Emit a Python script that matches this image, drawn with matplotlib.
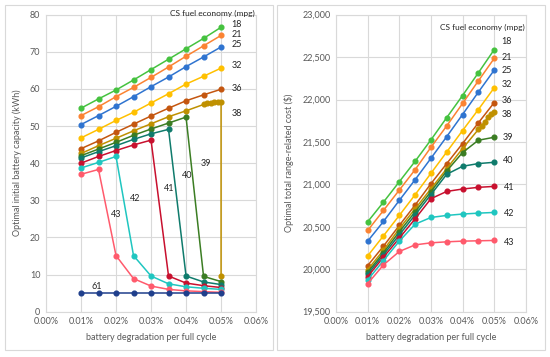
import matplotlib.pyplot as plt
from matplotlib.patches import Rectangle
from matplotlib.ticker import FuncFormatter, MultipleLocator

plt.rcParams['font.family'] = ['Liberation Sans Narrow', 'Lato', 'DejaVu Sans']

# battery degradation per full cycle (%)
deg = [0.010, 0.015, 0.020, 0.025, 0.030, 0.035, 0.040, 0.045, 0.050]
deg_38_left = deg[:8] + [0.046, 0.047, 0.048, 0.049, 0.050, 0.050]
deg_38_right = deg[:8] + [0.046, 0.047, 0.048, 0.049, 0.050]

mpg = ['18', '21', '25', '32', '36', '38', '39', '40', '41', '42', '43', '61']

# optimal initial battery capacity (kWh)
cap_18 = [54.8, 57.3, 59.7, 62.4, 65.2, 68.0, 70.8, 73.6, 76.6]
cap_21 = [52.8, 55.2, 57.9, 60.4, 63.1, 65.9, 68.8, 71.6, 74.4]
cap_25 = [50.4, 52.8, 55.3, 57.9, 60.6, 63.2, 66.0, 68.6, 71.3]
cap_32 = [46.8, 49.1, 51.5, 53.7, 56.2, 58.7, 61.3, 63.4, 65.6]
cap_36 = [43.9, 46.0, 48.3, 50.5, 52.7, 54.8, 56.8, 58.4, 59.9]
cap_38 = [42.6, 44.7, 46.7, 48.7, 50.6, 52.5, 54.1, 55.8, 56.1, 56.3, 56.5, 56.6, 56.5, 9.5]
cap_39 = [42.0, 43.8, 45.6, 47.5, 49.2, 50.8, 52.4, 9.5, 8.1]
cap_40 = [41.4, 43.1, 44.7, 46.4, 47.9, 49.1, 9.6, 8.0, 7.3]
cap_41 = [40.0, 41.8, 43.4, 44.9, 46.2, 9.6, 7.7, 7.0, 6.5]
cap_42 = [38.7, 40.2, 41.8, 15.1, 9.6, 7.5, 6.7, 6.3, 6.0]
cap_43 = [37.0, 38.3, 15.1, 8.9, 6.9, 6.0, 5.6, 5.4, 5.2]
cap_61 = [5.0, 5.0, 5.0, 5.0, 5.0, 5.0, 5.0, 5.0, 5.0]

# optimal total range-related cost ($)
cost_18 = [20559, 20791, 21031, 21272, 21524, 21787, 22047, 22315, 22587]
cost_21 = [20457, 20693, 20933, 21173, 21437, 21689, 21953, 22220, 22484]
cost_25 = [20331, 20563, 20811, 21055, 21307, 21563, 21823, 22087, 22346]
cost_32 = [20157, 20394, 20634, 20878, 21130, 21382, 21634, 21882, 22138]
cost_36 = [20043, 20272, 20516, 20756, 21008, 21245, 21481, 21725, 21963]
cost_38 = [19995, 20225, 20478, 20712, 20948, 21186, 21422, 21647, 21688, 21737, 21788, 21827, 21851]
cost_39 = [19965, 20195, 20442, 20676, 20915, 21158, 21375, 21520, 21555]
cost_40 = [19940, 20170, 20405, 20640, 20880, 21119, 21213, 21245, 21260]
cost_41 = [19913, 20142, 20366, 20594, 20831, 20917, 20945, 20965, 20976]
cost_42 = [19874, 20102, 20331, 20531, 20610, 20634, 20650, 20661, 20669]
cost_43 = [19831, 20051, 20209, 20287, 20311, 20323, 20331, 20335, 20339]

colors = ['#45c23f', '#fb8332', '#2f74d0', '#ffc000', '#c4560f', '#bf9000',
          '#3b7d23', '#0f7b6c', '#c8102e', '#1fc6c0', '#ff5a6c', '#1f3f8c']

left_series = [(deg, cap_18), (deg, cap_21), (deg, cap_25), (deg, cap_32), (deg, cap_36),
               (deg_38_left, cap_38), (deg, cap_39), (deg, cap_40), (deg, cap_41),
               (deg, cap_42), (deg, cap_43), (deg, cap_61)]
right_series = [(deg, cost_18), (deg, cost_21), (deg, cost_25), (deg, cost_32), (deg, cost_36),
                (deg_38_right, cost_38), (deg, cost_39), (deg, cost_40), (deg, cost_41),
                (deg, cost_42), (deg, cost_43)]

# label spots (data coords)
left_labels = [(0.0529, 77.3), (0.0529, 74.6), (0.0529, 71.9), (0.0529, 66.2), (0.0529, 60.0),
               (0.0529, 53.3), (0.0443, 39.8), (0.0389, 36.6), (0.0337, 33.3), (0.0240, 30.6),
               (0.0186, 26.3), (0.0131, 6.9)]
right_labels = [(0.0524, 22678), (0.0524, 22500), (0.0524, 22347), (0.0524, 22182), (0.0524, 21993),
                (0.0524, 21826), (0.0527, 21557), (0.0527, 21284), (0.0530, 20965), (0.0530, 20658),
                (0.0530, 20316)]

grey = '#595959'
fig = plt.figure(figsize=(5.5, 3.57), dpi=100)
ax1 = fig.add_axes([0.0836, 0.127, 0.382, 0.832])
ax2 = fig.add_axes([0.611, 0.127, 0.345, 0.832])

# chart frames
for x0, w in [(0.009, 0.487), (0.504, 0.487)]:
    fig.patches.append(Rectangle((x0, 0.02), w, 0.965, transform=fig.transFigure,
                                 fill=False, edgecolor='#d9d9d9', linewidth=0.8))

for (x, y), c in zip(left_series, colors):
    ax1.plot(x, y, '-o', color=c, markersize=3.4, linewidth=1.1)
for (x, y), c in zip(right_series, colors):
    ax2.plot(x, y, '-o', color=c, markersize=3.4, linewidth=1.1)

for (tx, ty), lab in zip(left_labels, mpg):
    ax1.text(tx, ty, lab, fontsize=6.5, color='#262626', ha='left', va='center')
for (tx, ty), lab in zip(right_labels, mpg):
    ax2.text(tx, ty, lab, fontsize=6.5, color='#262626', ha='left', va='center')
ax1.text(0.0474, 80.2, 'CS fuel economy (mpg)', fontsize=6, color='#262626', ha='center', va='center')
ax2.text(0.0464, 22855, 'CS fuel economy (mpg)', fontsize=6, color='#262626', ha='center', va='center')

pct = FuncFormatter(lambda v, p: '{:.2f}%'.format(v))
ax1.set_ylim(0, 80)
ax1.yaxis.set_major_locator(MultipleLocator(10))
ax1.set_ylabel('Optimal initial battery capacity (kWh)', fontsize=6.5, color=grey, labelpad=6)
ax2.set_ylim(19500, 23000)
ax2.yaxis.set_major_locator(MultipleLocator(500))
ax2.yaxis.set_major_formatter(FuncFormatter(lambda v, p: '{:,.0f}'.format(v)))
ax2.set_ylabel('Optimal total range-related cost ($)', fontsize=6.5, color=grey, labelpad=6)

for ax in (ax1, ax2):
    ax.set_xlim(0, 0.06)
    ax.xaxis.set_major_locator(MultipleLocator(0.01))
    ax.xaxis.set_major_formatter(pct)
    ax.set_xlabel('battery degradation per full cycle', fontsize=6.5, color=grey, labelpad=5)
    ax.grid(True, color='#d9d9d9', linewidth=0.8)
    ax.set_axisbelow(True)
    ax.tick_params(length=0, labelsize=6.5, labelcolor=grey, pad=4)
    for s in ax.spines.values():
        s.set_color('#d9d9d9')
        s.set_linewidth(0.8)

plt.savefig('out.png', dpi=100)
